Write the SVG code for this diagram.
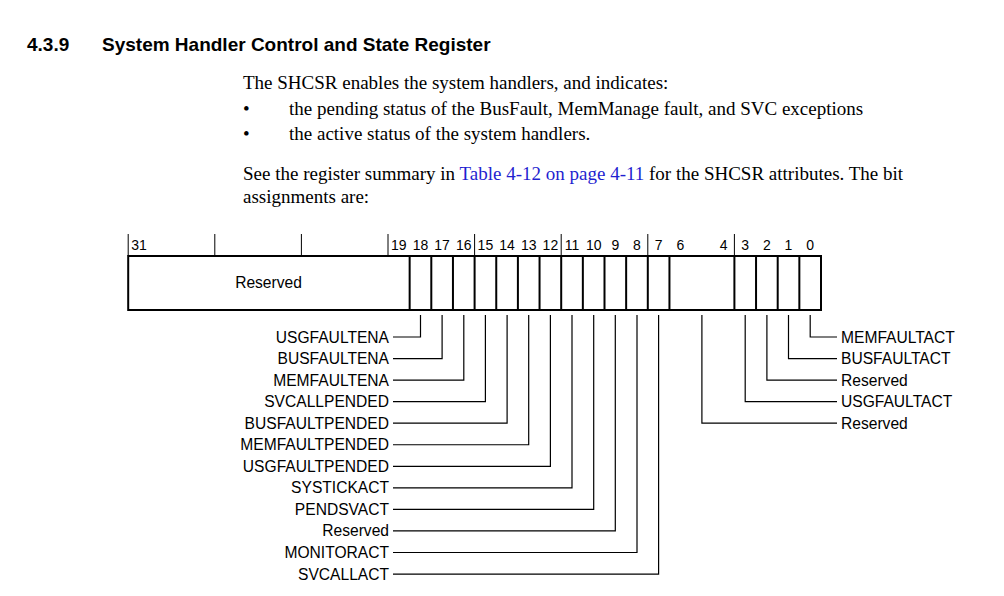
<svg xmlns="http://www.w3.org/2000/svg" width="1004" height="596" viewBox="0 0 1004 596">
<style>
.title{font-family:"Liberation Sans",Arial,sans-serif;font-weight:bold;font-size:19px;fill:#000}
.body{font-family:"Liberation Serif","Times New Roman",serif;font-size:19px;fill:#000}
.link{fill:#1f1fd0}
.num{font-family:"Liberation Sans",Arial,sans-serif;font-size:14px;fill:#000;text-anchor:middle}
.lbl{font-family:"Liberation Sans",Arial,sans-serif;font-size:15.6px;fill:#000}
.lbl-l{text-anchor:end}
.box{fill:#fff;stroke:#000;stroke-width:2}
.div{stroke:#000;stroke-width:2}
.tick{stroke:#000;stroke-width:1}
.lead{fill:none;stroke:#000;stroke-width:1.2}
</style>
<rect width="1004" height="596" fill="#fff"/>
<g id="heading">
<text class="title" x="27" y="51">4.3.9</text>
<text class="title" x="102" y="51">System Handler Control and State Register</text>
</g>
<g id="description">
<text class="body" x="243" y="88.5">The SHCSR enables the system handlers, and indicates:</text>
<text class="body" x="243" y="114.5">•</text>
<text class="body" x="289" y="114.5">the pending status of the BusFault, MemManage fault, and SVC exceptions</text>
<text class="body" x="243" y="140">•</text>
<text class="body" x="289" y="140">the active status of the system handlers.</text>
<text class="body" x="243" y="179.5">See the register summary in <tspan class="link">Table 4-12 on page 4-11</tspan> for the SHCSR attributes. The bit</text>
<text class="body" x="243" y="203">assignments are:</text>
</g>
<g id="register">
<rect class="box" x="128.2" y="256" width="692.8" height="54"/>
<path class="div" d="M409.65 256V310M431.3 256V310M452.95 256V310M474.6 256V310M496.25 256V310M517.9 256V310M539.55 256V310M561.2 256V310M582.85 256V310M604.5 256V310M626.15 256V310M647.8 256V310M669.45 256V310M734.4 256V310M756.05 256V310M777.7 256V310M799.35 256V310"/>
<path class="tick" d="M128.2 234V256M214.8 234V256M301.4 234V256M388 234V256M474.6 234V256M561.2 234V256M647.8 234V256M734.4 234V256"/>
<g id="bit-numbers">
<text class="num" x="139" y="250">31</text>
<text class="num" x="398.8" y="250">19</text>
<text class="num" x="420.5" y="250">18</text>
<text class="num" x="442.1" y="250">17</text>
<text class="num" x="463.8" y="250">16</text>
<text class="num" x="485.4" y="250">15</text>
<text class="num" x="507.1" y="250">14</text>
<text class="num" x="528.7" y="250">13</text>
<text class="num" x="550.4" y="250">12</text>
<text class="num" x="572" y="250">11</text>
<text class="num" x="593.7" y="250">10</text>
<text class="num" x="615.3" y="250">9</text>
<text class="num" x="637" y="250">8</text>
<text class="num" x="658.6" y="250">7</text>
<text class="num" x="680.3" y="250">6</text>
<text class="num" x="723.6" y="250">4</text>
<text class="num" x="745.2" y="250">3</text>
<text class="num" x="766.9" y="250">2</text>
<text class="num" x="788.5" y="250">1</text>
<text class="num" x="810.2" y="250">0</text>
</g>
<text class="lbl" x="268.5" y="288" text-anchor="middle">Reserved</text>
</g>
<g id="connectors">
<path class="lead" d="M420.5 315V337H393"/>
<path class="lead" d="M442.1 315V358.55H393"/>
<path class="lead" d="M463.8 315V380.1H393"/>
<path class="lead" d="M485.4 315V401.65H393"/>
<path class="lead" d="M507.1 315V423.2H393"/>
<path class="lead" d="M528.7 315V444.75H393"/>
<path class="lead" d="M550.4 315V466.3H393"/>
<path class="lead" d="M572 315V487.85H393"/>
<path class="lead" d="M593.7 315V509.4H393"/>
<path class="lead" d="M615.3 315V530.95H393"/>
<path class="lead" d="M637 315V552.5H393"/>
<path class="lead" d="M658.6 315V574.05H393"/>
<path class="lead" d="M810.2 315V337H837"/>
<path class="lead" d="M788.5 315V358.55H837"/>
<path class="lead" d="M766.9 315V380.1H837"/>
<path class="lead" d="M745.2 315V401.65H837"/>
<path class="lead" d="M701.9 315V423.2H837"/>
</g>
<g id="labels-left">
<text class="lbl lbl-l" x="389" y="342.5">USGFAULTENA</text>
<text class="lbl lbl-l" x="389" y="364">BUSFAULTENA</text>
<text class="lbl lbl-l" x="389" y="385.6">MEMFAULTENA</text>
<text class="lbl lbl-l" x="389" y="407.1">SVCALLPENDED</text>
<text class="lbl lbl-l" x="389" y="428.7">BUSFAULTPENDED</text>
<text class="lbl lbl-l" x="389" y="450.2">MEMFAULTPENDED</text>
<text class="lbl lbl-l" x="389" y="471.8">USGFAULTPENDED</text>
<text class="lbl lbl-l" x="389" y="493.3">SYSTICKACT</text>
<text class="lbl lbl-l" x="389" y="514.9">PENDSVACT</text>
<text class="lbl lbl-l" x="389" y="536.4">Reserved</text>
<text class="lbl lbl-l" x="389" y="558">MONITORACT</text>
<text class="lbl lbl-l" x="389" y="579.5">SVCALLACT</text>
</g>
<g id="labels-right">
<text class="lbl" x="841" y="342.5">MEMFAULTACT</text>
<text class="lbl" x="841" y="364">BUSFAULTACT</text>
<text class="lbl" x="841" y="385.6">Reserved</text>
<text class="lbl" x="841" y="407.1">USGFAULTACT</text>
<text class="lbl" x="841" y="428.7">Reserved</text>
</g>
</svg>
